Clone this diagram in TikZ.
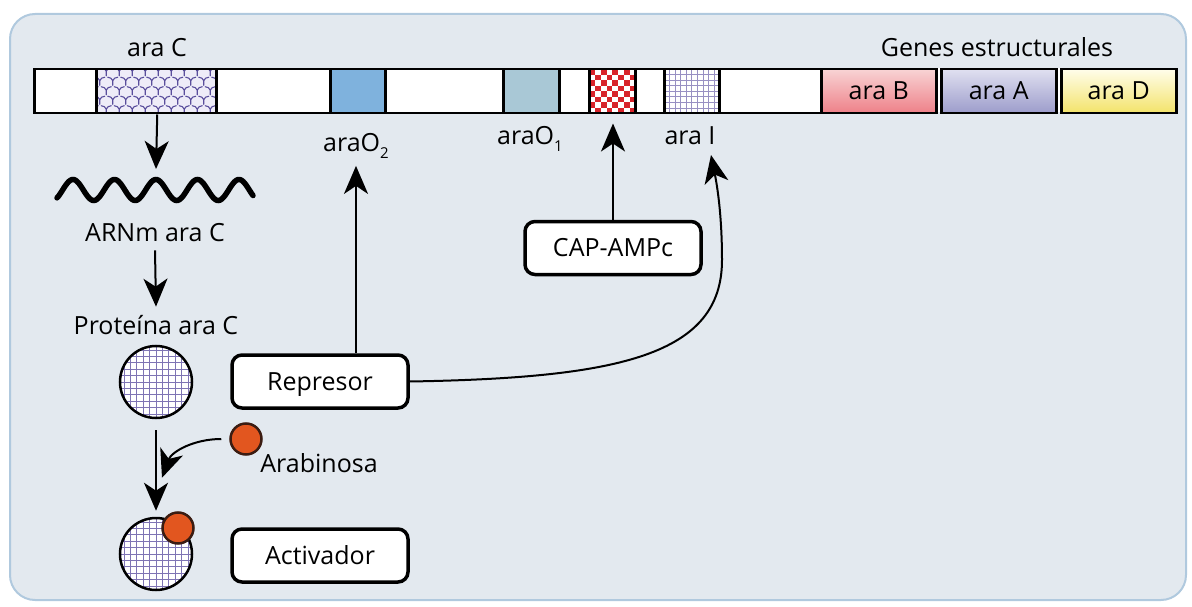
\documentclass[tikz,border=0pt]{standalone}
\usepackage{fontspec}
\setmainfont{Open Sans}
\usetikzlibrary{arrows.meta,calc}
\definecolor{panelbg}{HTML}{E3E9EF}
\definecolor{panelline}{HTML}{B0C9DE}
\definecolor{otwo}{HTML}{7FB2DD}
\definecolor{oone}{HTML}{A9C8D6}
\definecolor{checkred}{HTML}{D8232A}
\definecolor{gridpurple}{HTML}{7E74B4}
\definecolor{ypurple}{HTML}{5A4E9C}
\definecolor{lavbg}{HTML}{EEECF8}
\definecolor{arabfill}{HTML}{E2561F}
\definecolor{arabline}{HTML}{3B1C12}
\definecolor{btop}{HTML}{F8D3D4}
\definecolor{bbot}{HTML}{EE8088}
\definecolor{atop}{HTML}{E0E0F0}
\definecolor{abot}{HTML}{9C9CCB}
\definecolor{dtop}{HTML}{FFFDEA}
\definecolor{dbot}{HTML}{F3E36A}
\newcommand\lblf{\fontsize{25}{30}\selectfont}
\newcommand\lowidx[1]{\raisebox{-0.5ex}{\fontsize{15}{15}\selectfont #1}}
\begin{document}
\begin{tikzpicture}[x=1pt,y=1pt,
  lbl/.style={font=\lblf, inner sep=0pt, anchor=base},
  seg/.style={draw=black, line width=2.5pt, minimum height=44pt, inner sep=0pt, anchor=north west},
  gene/.style={seg, font=\lblf, text height=17pt, text depth=0pt},
  box/.style={draw=black, line width=3.5pt, rounded corners=10pt, fill=white, minimum width=176pt, minimum height=53pt, inner sep=0pt, font=\lblf, text height=17pt, text depth=0pt},
  conn/.style={line width=2pt, -{Stealth[length=28pt,width=24pt,inset=8pt]}},
  gcirc/.style={circle, draw=black, line width=2.5pt, minimum size=72pt, inner sep=0pt, fill=white,
    path picture={\draw[gridpurple, line width=1pt, step=6.4pt, shift={(path picture bounding box.center)}] (-40,-40) grid (40,40);}},
  dot/.style={circle, draw=arabline, fill=arabfill, line width=2.5pt, minimum size=31pt, inner sep=0pt}
]
\useasboundingbox (0,0) rectangle (1192,-607);
\fill[panelbg, draw=panelline, line width=2pt, rounded corners=25pt] (10,-14) rectangle (1186,-600);

% DNA bar
\node[seg, fill=white, minimum width=787pt] (bar) at (33,-68) {};
\node[seg, fill=lavbg, minimum width=120pt, path picture={
   \foreach \j in {0,...,5}{\foreach \i in {0,...,10}{
     \pgfmathsetmacro\xx{\i*13+mod(\j,2)*6.5-3}
     \draw[ypurple, line width=1.1pt, line cap=round] ($(path picture bounding box.center)+(\xx-60,22-\j*9.5-2)$)
        +(0,0) -- +(0,-4.5) +(0,0) to[bend right=35] +(-5,3.5) +(0,0) to[bend left=35] +(5,3.5);
   }}}] (arac) at (95,-68) {};
\node[seg, fill=otwo, minimum width=55pt] (arao2) at (329,-68) {};
\node[seg, fill=oone, minimum width=56pt] (arao1) at (502,-68) {};
\node[seg, fill=white, minimum width=46pt, path picture={
   \foreach \i in {0,...,7}{\foreach \j in {0,...,7}{
     \pgfmathtruncatemacro\m{mod(\i+\j,2)}
     \ifnum\m=0 \fill[checkred] ($(path picture bounding box.north west)+(\i*5.75,-\j*5.5)$) rectangle ++(5.75,-5.5);\fi
   }}}] (capsite) at (588,-68) {};
\node[seg, fill=white, minimum width=55pt, path picture={
   \draw[gridpurple!80, line width=0.9pt, step=5.6pt, shift={(path picture bounding box.center)}] (-40,-40) grid (40,40);}] (araiseg) at (663,-68) {};
\fill[white] (820,-68) rectangle (1175,-112);
\node[gene, top color=btop, bottom color=bbot, minimum width=115pt] (arab) at (820,-68) {ara B};
\node[gene, top color=atop, bottom color=abot, minimum width=115pt] (araa) at (940,-68) {ara A};
\node[gene, top color=dtop, bottom color=dbot, minimum width=115pt] (arad) at (1060,-68) {ara D};

% labels
\node[lbl] (araclbl) at (157,-57) {ara C};
\node[lbl] (geneslbl) at (997,-57) {Genes estructurales};
\node[lbl] (o2lbl) at (356,-152) {araO\lowidx{2}};
\node[lbl] (o1lbl) at (530,-145) {araO\lowidx{1}};
\node[lbl] (arailbl) at (690,-145) {ara I};
\node[lbl] (mrnalbl) at (155,-241) {ARNm ara C};
\node[lbl] (protlbl) at (156,-334) {Proteína ara C};
\node[lbl] (arablbl) at (319,-472) {Arabinosa};

% mRNA wave
\draw[line width=5.5pt, line cap=round] plot[domain=57:253, samples=160, smooth] (\x, {-190 + 10.5*sin((\x-62.6)*8.6747)});
\coordinate (mrnatop) at (156,-169);
\coordinate (araitip) at (711,-155);

% proteins
\node[gcirc] (prot) at (156,-382) {};
\node[gcirc] (act) at (156,-554) {};
\node[dot] (actdot) at (178,-528) {};
\node[dot] (arabdot) at (246,-439) {};

% boxes
\node[box] (repr) at (320,-381.5) {Represor};
\node[box] (capamp) at (613,-248) {CAP-AMPc};
\node[box] (activ) at (320,-555.5) {Activador};

% connectors
\draw[conn] ([xshift=1pt]arac.south) -- (mrnatop);
\draw[conn] ([yshift=-9pt]mrnalbl.south) -- ([yshift=8pt]protlbl.north);
\draw[conn] ([yshift=-11pt]prot.south) -- ([yshift=6pt]act.north);
\draw[conn] ([xshift=-8pt]arabdot.west) to[out=180,in=70] ([shift={(6pt,39pt)}]act.north);
\draw[conn] (repr.north -| o2lbl.south) -- ([yshift=-7pt]o2lbl.south);
\draw[conn] (capamp.north) -- ([yshift=-9pt]capamp.north |- capsite.south);
\draw[conn] (repr.east) .. controls (620,-378) and (722,-355) .. (722,-260) .. controls (722,-210) and (716,-180) .. (araitip);
\end{tikzpicture}
\end{document}
